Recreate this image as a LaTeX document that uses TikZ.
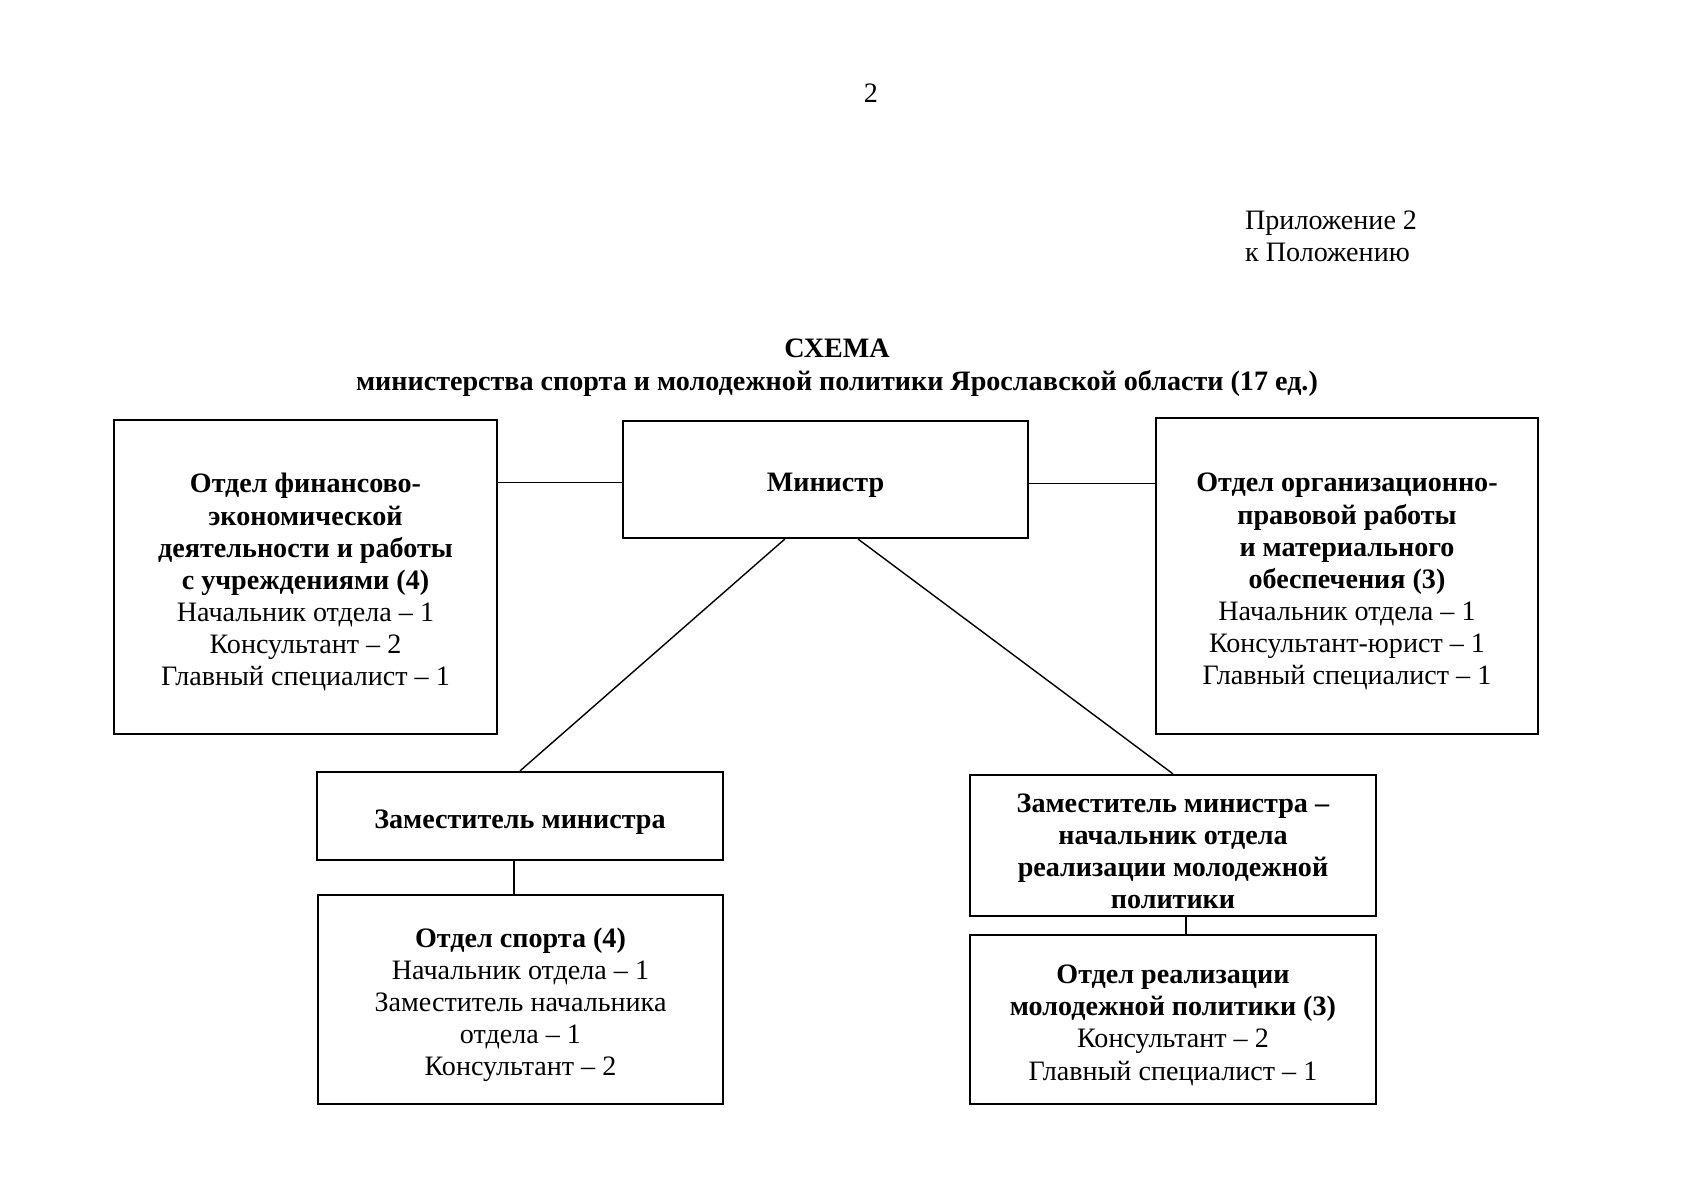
\documentclass[tikz,border=0pt]{standalone}
\usepackage{fontspec}
\setmainfont{Liberation Serif}
\usetikzlibrary{calc}
\newcommand{\tstrut}{\rule{0pt}{15pt}}
\begin{document}
\begin{tikzpicture}[x=0.0175cm,y=-0.0175cm,
  every node/.style={font=\fontsize{14pt}{16pt}\selectfont},
  box/.style={draw, line width=1.1pt, align=center, inner sep=0pt},
  conn/.style={line width=0.7pt}]
\useasboundingbox[fill=white] (0,0) rectangle (1697,1200);

\node (pg) at (871,93) {2};
\node[anchor=west, align=left] (app) at (1238,236) {Приложение 2\\к Положению};
\node[align=center, font=\fontsize{14pt}{16.4pt}\selectfont\bfseries] (title) at (837,368)
  {СХЕМА\\министерства спорта и молодежной политики Ярославской области (17 ед.)};

\node[box, minimum width=6.7025cm, minimum height=5.495cm] (L) at (305.5,577)
  {\tstrut\textbf{Отдел финансово-}\\\textbf{экономической}\\\textbf{деятельности и работы}\\\textbf{с учреждениями (4)}\\Начальник отдела – 1\\Консультант – 2\\Главный специалист – 1};
\node[box, minimum width=7.0875cm, minimum height=2.0475cm] (M) at (825.5,479.5)
  {\tstrut\textbf{Министр}};
\node[box, minimum width=6.685cm, minimum height=5.53cm] (R) at (1347,576)
  {\tstrut\textbf{Отдел организационно-}\\\textbf{правовой работы}\\\textbf{и материального}\\\textbf{обеспечения (3)}\\Начальник отдела – 1\\Консультант-юрист – 1\\Главный специалист – 1};
\node[box, minimum width=7.105cm, minimum height=1.54cm] (DL) at (520,816)
  {\tstrut\textbf{Заместитель министра}};
\node[box, minimum width=7.0875cm, minimum height=3.6575cm] (S) at (520.5,999.5)
  {\tstrut\textbf{Отдел спорта (4)}\\Начальник отдела – 1\\Заместитель начальника\\отдела – 1\\Консультант – 2};
\node[box, minimum width=7.105cm, minimum height=2.4675cm] (DR) at (1173,845.5)
  {\tstrut\textbf{Заместитель министра –}\\\textbf{начальник отдела}\\\textbf{реализации молодежной}\\\textbf{политики}};
\node[box, minimum width=7.105cm, minimum height=2.9575cm] (Y) at (1173,1019.5)
  {\tstrut\textbf{Отдел реализации}\\\textbf{молодежной политики (3)}\\Консультант – 2\\Главный специалист – 1};

\coordinate (mw) at ($(M.west)+(0,3)$);
\coordinate (me) at ($(M.east)+(0,4)$);
\draw[conn] (mw) -- (L.east |- mw);
\draw[conn] (me) -- (R.west |- me);
\draw[conn] ($(M.south west)!0.4!(M.south east)$) -- (DL.north);
\draw[conn] ($(M.south west)!0.58!(M.south east)$) -- (DR.north);
\draw[conn] ($(DL.south)+(-6,0)$) -- ($(S.north)+(-6.5,0)$);
\draw[conn] ($(DR.south)+(13,0)$) -- ($(Y.north)+(13,0)$);
\end{tikzpicture}
\end{document}
